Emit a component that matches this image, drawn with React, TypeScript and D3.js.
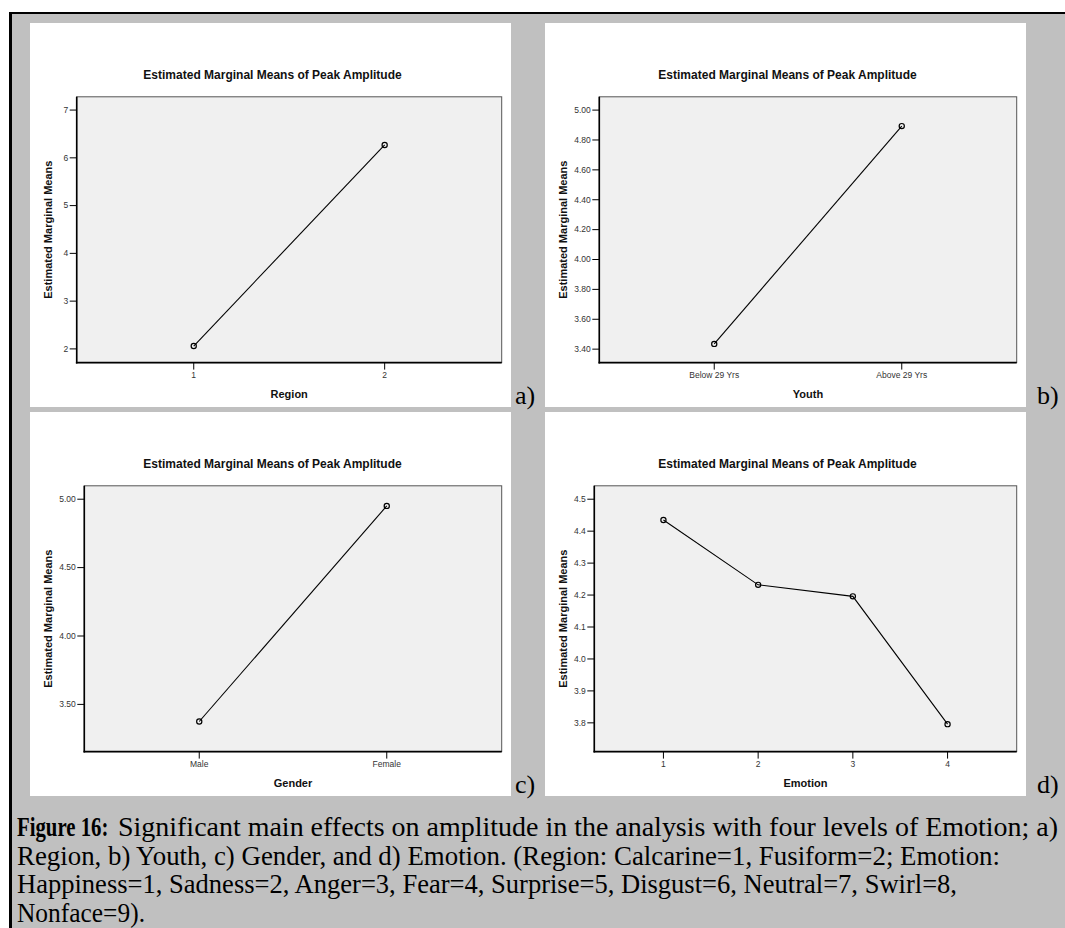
import React from "react";
import * as d3 from "d3";

// ---------- data ----------
const regionCats = ["1", "2"];
const regionMeans = [2.06, 6.27];
const regionTicks = [2, 3, 4, 5, 6, 7];

const youthCats = ["Below 29 Yrs", "Above 29 Yrs"];
const youthMeans = [3.435, 4.893];
const youthTicks = [3.4, 3.6, 3.8, 4.0, 4.2, 4.4, 4.6, 4.8, 5.0];

const genderCats = ["Male", "Female"];
const genderMeans = [3.375, 4.951];
const genderTicks = [3.5, 4.0, 4.5, 5.0];

const emotionCats = ["1", "2", "3", "4"];
const emotionMeans = [4.435, 4.232, 4.196, 3.796];
const emotionTicks = [3.8, 3.9, 4.0, 4.1, 4.2, 4.3, 4.4, 4.5];

const chartTitle = "Estimated Marginal Means of Peak Amplitude";
const yAxisTitle = "Estimated Marginal Means";

const captionBold = "Figure 16:";
const captionLines = [
  "Significant main effects on amplitude in the analysis with four levels of Emotion; a)",
  "Region, b) Youth, c) Gender, and d) Emotion. (Region: Calcarine=1, Fusiform=2; Emotion:",
  "Happiness=1, Sadness=2, Anger=3, Fear=4, Surprise=5, Disgust=6, Neutral=7, Swirl=8,",
  "Nonface=9).",
];

const SANS = "'Liberation Sans', Arial, Helvetica, sans-serif";
const SERIF = "'Liberation Serif', 'Times New Roman', serif";

type PanelProps = {
  px: number;
  py: number;
  letter: string;
  letterX: number;
  cats: string[];
  values: number[];
  ticks: number[];
  yDomain: [number, number];
  fmt: string;
  pad: number;
  plotLeft: number;
  xTitle: string;
};

const PW = 481;
const PH = 384;

function Panel(p: PanelProps) {
  const left = p.plotLeft;
  const right = 471.7;
  const top = 73.8;
  const bottom = 339.6;
  const x = d3.scalePoint<string>().domain(p.cats).range([left, right]).padding(p.pad);
  const y = d3.scaleLinear().domain(p.yDomain).range([bottom, top]);
  const f = d3.format(p.fmt);
  const line = d3
    .line<number>()
    .x((_, i) => x(p.cats[i]) as number)
    .y((v) => y(v));
  const cx = (left + right) / 2;
  const cy = (top + bottom) / 2;
  return (
    <g>
      <g transform={`translate(${p.px},${p.py})`}>
        <rect x={0} y={0} width={PW} height={PH} fill="#ffffff" />
        <text
          x={PW / 2 + 2}
          y={55.5}
          textAnchor="middle"
          fontFamily={SANS}
          fontWeight="bold"
          fontSize={12}
          fill="#111"
        >
          {chartTitle}
        </text>
        <rect
          x={left}
          y={top}
          width={right - left}
          height={bottom - top}
          fill="#f0f0f0"
          stroke="#555"
          strokeWidth={1}
        />
        <line x1={left} x2={left} y1={top} y2={bottom + 0.8} stroke="#000" strokeWidth={1.6} />
        <line x1={left - 0.8} x2={right} y1={bottom} y2={bottom} stroke="#000" strokeWidth={1.6} />
        {p.ticks.map((t) => (
          <g key={t}>
            <line x1={left - 7} x2={left} y1={y(t)} y2={y(t)} stroke="#000" strokeWidth={1} />
            <text
              x={left - 8.5}
              y={y(t)}
              dy="0.33em"
              textAnchor="end"
              fontFamily={SANS}
              fontSize={8.5}
              fill="#333"
            >
              {f(t)}
            </text>
          </g>
        ))}
        {p.cats.map((c) => (
          <g key={c}>
            <line x1={x(c)} x2={x(c)} y1={bottom} y2={bottom + 7} stroke="#000" strokeWidth={1} />
            <text
              x={x(c)}
              y={bottom + 15.5}
              textAnchor="middle"
              fontFamily={SANS}
              fontSize={8.5}
              fill="#333"
            >
              {c}
            </text>
          </g>
        ))}
        <path d={line(p.values) || ""} fill="none" stroke="#000" strokeWidth={1.1} />
        {p.values.map((v, i) => (
          <circle
            key={i}
            cx={x(p.cats[i])}
            cy={y(v)}
            r={2.6}
            fill="none"
            stroke="#000"
            strokeWidth={1.2}
          />
        ))}
        <text
          x={cx}
          y={bottom + 35}
          textAnchor="middle"
          fontFamily={SANS}
          fontWeight="bold"
          fontSize={11}
          fill="#111"
        >
          {p.xTitle}
        </text>
        <text
          transform={`translate(18,${cy}) rotate(-90)`}
          textAnchor="middle"
          dy="0.35em"
          fontFamily={SANS}
          fontWeight="bold"
          fontSize={11}
          fill="#111"
        >
          {yAxisTitle}
        </text>
      </g>
      <text x={p.letterX} y={p.py + PH - 3} fontFamily={SERIF} fontSize={26} fill="#000">
        {p.letter}
      </text>
    </g>
  );
}

const captionLayout = [
  { x: 118, len: 940 },
  { x: 17, len: 983 },
  { x: 17, len: 940 },
  { x: 17, len: 128 },
];

export default function App() {
  return (
    <svg
      width={1065}
      height={928}
      style={{ position: "absolute", left: 0, top: 0, display: "block" }}
    >
      <rect x={0} y={0} width={1065} height={928} fill="#ffffff" />
      <rect x={9} y={12} width={1056} height={916} fill="#c0c0c0" />
      <rect x={9} y={12} width={3} height={916} fill="#000" />
      <rect x={9} y={12} width={1056} height={2} fill="#000" />
      <Panel
        px={30}
        py={23}
        letter="a)"
        letterX={515}
        cats={regionCats}
        values={regionMeans}
        ticks={regionTicks}
        yDomain={[1.713, 7.278]}
        fmt="d"
        pad={0.613}
        plotLeft={46.7}
        xTitle="Region"
      />
      <Panel
        px={545}
        py={23}
        letter="b)"
        letterX={1037}
        cats={youthCats}
        values={youthMeans}
        ticks={youthTicks}
        yDomain={[3.31, 5.089]}
        fmt=".2f"
        pad={0.613}
        plotLeft={54.3}
        xTitle="Youth"
      />
      <Panel
        px={30}
        py={412}
        letter="c)"
        letterX={515}
        cats={genderCats}
        values={genderMeans}
        ticks={genderTicks}
        yDomain={[3.155, 5.098]}
        fmt=".2f"
        pad={0.613}
        plotLeft={54.3}
        xTitle="Gender"
      />
      <Panel
        px={545}
        py={412}
        letter="d)"
        letterX={1037}
        cats={emotionCats}
        values={emotionMeans}
        ticks={emotionTicks}
        yDomain={[3.71, 4.542]}
        fmt=".1f"
        pad={0.73}
        plotLeft={49.3}
        xTitle="Emotion"
      />
      <text
        transform="translate(17,836) scale(0.77,1)"
        x={0}
        y={0}
        fontFamily={SERIF}
        fontSize={27}
        fontWeight="bold"
        fill="#000"
      >
        {captionBold}
      </text>
      {captionLines.map((ln, i) => {
        const lay = captionLayout[i];
        return (
          <text
            key={i}
            x={lay.x}
            y={836 + i * 28.7}
            fontFamily={SERIF}
            fontSize={27}
            fill="#000"
            textLength={lay.len}
            lengthAdjust="spacingAndGlyphs"
          >
            {ln}
          </text>
        );
      })}
    </svg>
  );
}
